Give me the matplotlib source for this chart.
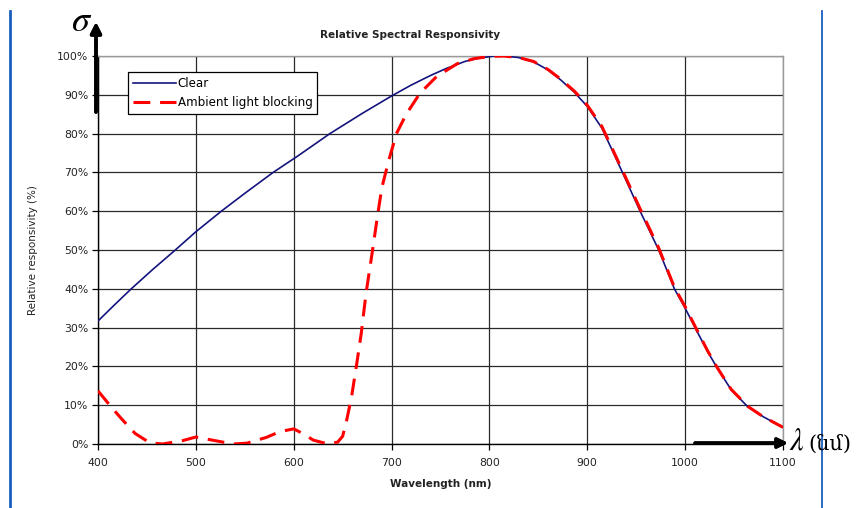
import numpy as np
import matplotlib.pyplot as plt
from matplotlib.lines import Line2D
from matplotlib.ticker import FuncFormatter

plt.rcParams["mathtext.fontset"] = "stix"

# Data (wavelength in nm, responsivity in %)
clear_nm = [400, 417, 434, 456, 479, 500, 526, 550, 579, 604, 637, 670, 700,
            720, 740, 756, 775, 790, 805, 815, 830, 845, 860, 873, 887, 900,
            915, 935, 954, 973, 989, 1000, 1013, 1023, 1033, 1047, 1064, 1080,
            1100]
clear_pct = [31.7, 35.9, 40.0, 45.0, 50.0, 54.7, 60.0, 64.6, 70.0, 74.2, 80.0,
             85.2, 89.7, 92.5, 95.0, 96.8, 98.6, 99.5, 100.0, 100.0, 99.6,
             98.5, 96.4, 93.8, 90.6, 87.0, 81.4, 70.5, 60.0, 50.0, 40.0, 35.0,
             28.6, 23.8, 19.5, 14.0, 9.6, 7.0, 4.3]

blocking_nm = [400, 412, 424, 438, 453, 466, 487, 500, 521, 538, 552, 572, 586,
               600, 610, 620, 635, 645, 650, 654, 659, 664, 669, 674, 680, 685,
               690, 697, 705, 715, 729, 746, 767, 784, 800, 815, 830, 845, 860,
               873, 887, 900, 915, 935, 954, 973, 989, 1000, 1013, 1023, 1033,
               1047, 1064, 1080, 1100]
blocking_pct = [13.7, 10.0, 6.5, 2.7, 0.3, 0.0, 0.9, 1.8, 0.8, 0.0, 0.2, 1.7,
                3.2, 3.9, 2.6, 1.0, 0.0, 0.5, 2.0, 6.0, 12.0, 20.0, 28.5, 39.0,
                49.0, 57.7, 66.0, 73.0, 80.0, 85.0, 90.4, 94.7, 98.0, 99.3,
                99.9, 100.0, 99.6, 98.6, 96.5, 94.0, 90.9, 87.3, 81.8, 71.0,
                60.6, 50.5, 40.4, 35.4, 28.9, 24.0, 19.6, 14.1, 9.7, 7.0, 4.3]

x_ticks = [400, 500, 600, 700, 800, 900, 1000, 1100]
y_ticks = [0, 10, 20, 30, 40, 50, 60, 70, 80, 90, 100]

W, H = 859, 508
fig = plt.figure(figsize=(W / 100, H / 100), dpi=100)
fig.patch.set_facecolor("white")

# axes box in pixels: x 98..783, y 56..444 (from top)
ax = fig.add_axes([98 / W, (H - 444) / H, (783 - 98) / W, (444 - 56) / H])

ax.plot(clear_nm, clear_pct, color="#14147f", lw=1.2, label="Clear", zorder=3)
ax.plot(blocking_nm, blocking_pct, color="#ff0000", lw=2.2,
        dashes=(5.5, 3.2), label="Ambient light blocking", zorder=4)

ax.set_xlim(400, 1100)
ax.set_ylim(0, 100)
ax.set_xticks(x_ticks)
ax.set_yticks(y_ticks)
ax.yaxis.set_major_formatter(FuncFormatter(lambda v, p: f"{v:.0f}%"))

ax.grid(True, color="#2a2a2a", lw=0.9)
ax.set_axisbelow(True)
for side in ["top", "right"]:
    ax.spines[side].set_color("#9a9a9a")
    ax.spines[side].set_linewidth(1.0)
for side in ["left", "bottom"]:
    ax.spines[side].set_color("black")
    ax.spines[side].set_linewidth(1.0)

ax.tick_params(axis="both", direction="out", length=4, width=0.9,
               colors="black", labelsize=7.8, labelcolor="#222222")
ax.tick_params(axis="x", pad=6)
ax.tick_params(axis="y", pad=3)

ax.set_xlabel("Wavelength (nm)", fontsize=7.5, fontweight="bold",
              color="#222222", labelpad=8)
ax.set_ylabel("Relative responsivity (%)", fontsize=7.5, color="#222222",
              labelpad=14)
fig.text(410 / W, 1 - 35 / H, "Relative Spectral Responsivity", fontsize=7.5,
         fontweight="bold", color="#222222", ha="center", va="center")

leg = ax.legend(loc="upper left", bbox_to_anchor=((128 - 98) / 685, 1 - (72 - 56) / 388),
                fontsize=8.6, frameon=True, fancybox=False, edgecolor="black",
                framealpha=1, borderpad=0.4, handlelength=3.6,
                handletextpad=0.15, labelspacing=0.5, borderaxespad=0)
leg.get_frame().set_linewidth(0.9)

# page-border blue rules
fig.add_artist(Line2D([10 / W, 10 / W], [0, 1 - 11 / H], transform=fig.transFigure,
                      color="#1a5fc0", lw=2.0))
fig.add_artist(Line2D([822 / W, 822 / W], [0, 1 - 11 / H], transform=fig.transFigure,
                      color="#1a5fc0", lw=1.3))

# hand-drawn axis arrows
fig.add_artist(plt.annotate("", xy=(96, H - 22), xytext=(96, H - 112),
                            xycoords="figure pixels", textcoords="figure pixels",
                            arrowprops=dict(arrowstyle="-|>", lw=2.6, color="black",
                                            mutation_scale=16, shrinkA=0, shrinkB=0)))
fig.add_artist(plt.annotate("", xy=(788, H - 443), xytext=(695, H - 443),
                            xycoords="figure pixels", textcoords="figure pixels",
                            arrowprops=dict(arrowstyle="-|>", lw=2.4, color="black",
                                            mutation_scale=15, shrinkA=0, shrinkB=0)))

fig.text(82 / W, 1 - 21 / H, r"$\sigma$", fontsize=26, ha="center", va="center",
         color="black")
fig.text(789 / W, 1 - 441 / H, r"$\lambda$", fontsize=22, ha="left", va="center",
         color="black")
fig.text(808 / W, 1 - 444 / H, "(նմ)", fontsize=15, ha="left", va="center",
         color="black", family=["DejaVu Serif", "DejaVu Sans"])

fig.savefig("out.png", dpi=100)
